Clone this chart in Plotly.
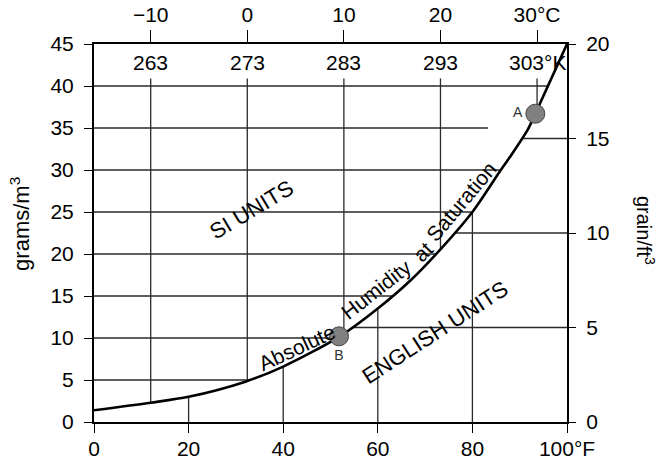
import numpy as np
import plotly.graph_objects as go

# ---- data ----
temp_F = [0, 12, 20, 32, 40, 52, 60, 67, 73, 80, 86, 88, 91.7, 93.3, 100]
abs_hum = [1.4, 2.3, 3.0, 4.8, 6.6, 10.2, 13.5, 16.9, 20.4, 25.0, 30.0, 31.6, 34.8, 36.7, 45]

pt_F = [93.3, 51.8]
pt_g = [36.7, 10.2]
pt_lbl = ["A", "B"]

f_ticks = [0, 20, 40, 60, 80, 100]
f_text = ["0", "20", "40", "60", "80", "100°F"]
g_ticks = [0, 5, 10, 15, 20, 25, 30, 35, 40, 45]
gr_ticks = [0, 5, 10, 15, 20]
c_ticks = [-10, 0, 10, 20, 30]
c_text = ["\u221210", "0", "10", "20", "30°C"]
k_text = ["263", "273", "283", "293", "303°K"]

si_grid = [5, 10, 15, 20, 25, 30, 35, 40]      # g/m3 lines above the curve
en_grid = [5, 10, 15]                            # grain/ft3 lines below the curve
f_grid = [20, 40, 60, 80]                        # °F lines below the curve

F_RANGE = [0, 100]
G_RANGE = [0, 45]
GR_RANGE = [0, 20]
C_RANGE = [-15.87, 33.1]
K_ROW = 0.952          # paper y of the Kelvin label row
K_GAP = 0.043          # half height of that row (paper units)

FONT = "Liberation Sans, Arial, sans-serif"
GRID = dict(color="#2a2a2a", width=1.3)


def curve_x(g):
    return float(np.interp(g, abs_hum, temp_F))


def curve_g(f):
    return float(np.interp(f, temp_F, abs_hum))


def f_of_c(c):
    return F_RANGE[0] + (c - C_RANGE[0]) / (C_RANGE[1] - C_RANGE[0]) * (F_RANGE[1] - F_RANGE[0])


def g_of_grain(gr):
    return G_RANGE[0] + gr / (GR_RANGE[1] - GR_RANGE[0]) * (G_RANGE[1] - G_RANGE[0])


shapes = []
# SI horizontal grid: from left edge to the curve (stopping short near label A)
for lv in si_grid:
    xe = curve_x(lv)
    if abs(lv - pt_g[0]) < 2.5:
        xe = pt_F[0] - 10
    shapes.append(dict(type="line", xref="x", yref="y", x0=F_RANGE[0], x1=xe, y0=lv, y1=lv,
                       line=GRID, layer="below"))
# SI vertical grid (°C): from below the Kelvin labels down to the curve
y_top = (K_ROW - K_GAP) * (G_RANGE[1] - G_RANGE[0]) + G_RANGE[0]
for c in c_ticks:
    f = f_of_c(c)
    shapes.append(dict(type="line", xref="x", yref="y", x0=f, x1=f, y0=y_top, y1=curve_g(f),
                       line=GRID, layer="below"))
# English horizontal grid: from the curve to the right edge
for gr in en_grid:
    g = g_of_grain(gr)
    shapes.append(dict(type="line", xref="x", yref="y", x0=curve_x(g), x1=F_RANGE[1], y0=g, y1=g,
                       line=GRID, layer="below"))
# English vertical grid (°F): from the bottom up to the curve
for f in f_grid:
    shapes.append(dict(type="line", xref="x", yref="y", x0=f, x1=f, y0=G_RANGE[0], y1=curve_g(f),
                       line=GRID, layer="below"))

fig = go.Figure()
fig.add_trace(go.Scatter(x=temp_F, y=abs_hum, mode="lines",
                         line=dict(color="black", width=2.6, shape="spline", smoothing=0.8),
                         hoverinfo="skip", showlegend=False, cliponaxis=True))
fig.add_trace(go.Scatter(x=pt_F, y=pt_g, mode="markers+text", text=pt_lbl,
                         textposition=["middle left", "bottom center"],
                         textfont=dict(family=FONT, size=14, color="#333"),
                         marker=dict(size=19, color="#808080", line=dict(color="#444", width=1)),
                         hoverinfo="skip", showlegend=False))
# dummy traces to register the secondary axes
fig.add_trace(go.Scatter(x=[None], y=[None], xaxis="x2", yaxis="y", showlegend=False, hoverinfo="skip"))
fig.add_trace(go.Scatter(x=[None], y=[None], xaxis="x", yaxis="y2", showlegend=False, hoverinfo="skip"))

tickfont = dict(family=FONT, size=21, color="black")

annotations = []
# Kelvin labels inside the top of the plot
for c, k in zip(c_ticks, k_text):
    annotations.append(dict(x=c, xref="x2", y=K_ROW, yref="paper", text=k, showarrow=False,
                            font=tickfont, xanchor="center", yanchor="middle"))

words = [
    ("Absolute", 42.9, 8.9, -25, 21),
    ("Humidity", 59.6, 15.8, -38, 21),
    ("at", 69.6, 20.3, -45, 21),
    ("Saturation", 77.6, 26.3, -50, 21),
    ("SI UNITS", 33.4, 25.3, -31, 22),
    ("ENGLISH UNITS", 72.1, 10.6, -33, 22),
]
for t, x, y, a, s in words:
    annotations.append(dict(x=x, y=y, xref="x", yref="y", text=t, textangle=a, showarrow=False,
                            font=dict(family=FONT, size=s, color="black"),
                            xanchor="center", yanchor="middle"))

annotations.append(dict(x=-0.1565, y=0.524, xref="paper", yref="paper", text="grams/m<sup>3</sup>",
                        textangle=-90, showarrow=False, font=dict(family=FONT, size=22, color="black"),
                        xanchor="center", yanchor="middle"))
annotations.append(dict(x=1.165, y=0.508, xref="paper", yref="paper", text="grain/ft<sup>3</sup>",
                        textangle=90, showarrow=False, font=dict(family=FONT, size=20, color="black"),
                        xanchor="center", yanchor="middle"))

fig.update_layout(
    width=657, height=463,
    margin=dict(l=94, r=90, t=44, b=41, autoexpand=False),
    paper_bgcolor="white", plot_bgcolor="white",
    font=dict(family=FONT, color="black"),
    showlegend=False,
    xaxis=dict(range=F_RANGE, tickvals=f_ticks, ticktext=f_text, ticks="outside", ticklen=9,
               tickwidth=1.3, tickcolor="black", showgrid=False, zeroline=False, showline=True,
               linecolor="black", linewidth=2, mirror=True, tickfont=tickfont, ticklabelstandoff=-2,
               automargin=False),
    xaxis2=dict(range=C_RANGE, overlaying="x", side="top", anchor="y", tickvals=c_ticks,
                ticktext=c_text, ticks="outside", ticklen=13, tickwidth=1.3, tickcolor="black",
                showgrid=False, zeroline=False, showline=False, tickfont=tickfont, automargin=False),
    yaxis=dict(range=G_RANGE, tickvals=g_ticks, ticks="outside", ticklen=8, tickwidth=1.3,
               tickcolor="black", showgrid=False, zeroline=False, showline=True, linecolor="black",
               linewidth=2, mirror=True, tickfont=tickfont, ticklabelstandoff=6, automargin=False),
    yaxis2=dict(range=GR_RANGE, overlaying="y", side="right", anchor="x", tickvals=gr_ticks,
                ticks="outside", ticklen=8, tickwidth=1.3, tickcolor="black", showgrid=False,
                zeroline=False, showline=False, tickfont=tickfont, ticklabelstandoff=6,
                automargin=False),
    shapes=shapes,
    annotations=annotations,
)

fig.write_html("out.html")
